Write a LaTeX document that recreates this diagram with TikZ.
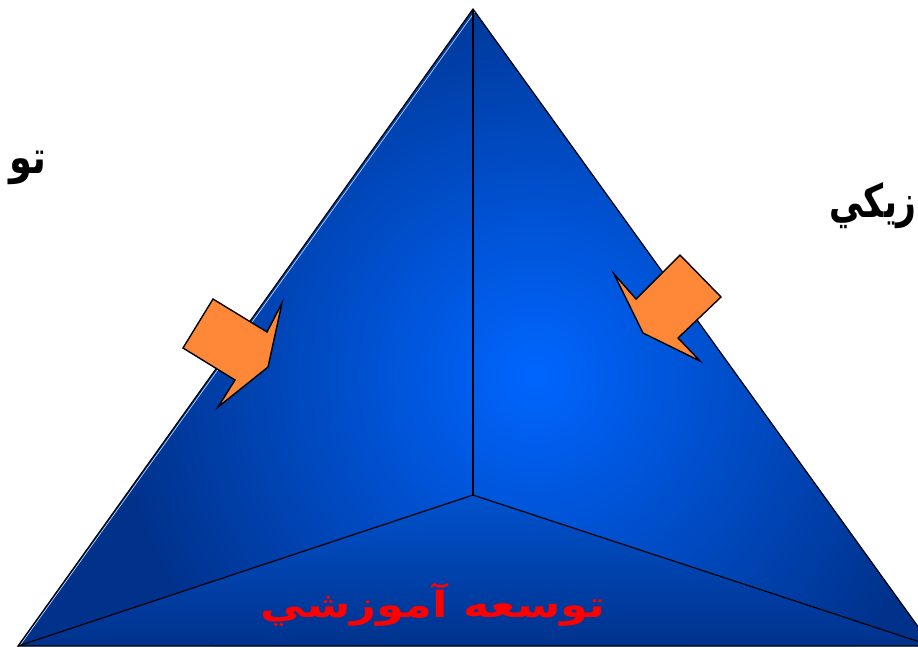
\documentclass[tikz,border=0pt]{standalone}
\usepackage{fontspec}
\TeXXeTstate=1
\newfontfamily\arabicfont[Script=Arabic]{DejaVu Sans}
\definecolor{facelight}{RGB}{0,102,255}
\definecolor{facedark}{RGB}{0,50,140}
\definecolor{floorlight}{RGB}{0,82,205}
\definecolor{arroworange}{RGB}{255,136,56}
\usetikzlibrary{calc}

\begin{document}
\begin{tikzpicture}[x=1pt, y=-1pt,
    edge/.style={black, line width=1.2pt},
    blockarrow/.style={fill=arroworange, draw=black, line width=1.4pt, line join=miter},
    sidelabel/.style={font=\arabicfont\bfseries\fontsize{46}{50}\selectfont, inner sep=0pt}]
  \useasboundingbox (0,0) rectangle (918,646);
  \clip (0,0) rectangle (918,646);
  \coordinate (apex) at (473,9);
  \coordinate (mid) at (473,495);
  \coordinate (bl) at (18,646);
  \coordinate (br) at (932,646);

  \begin{scope}
    \clip (apex) -- (bl) -- (br) -- cycle;
    \fill[facedark] (apex) -- (bl) -- (br) -- cycle;
    \shade[inner color=facelight, outer color=facedark] (535,375) circle (420);
    \shade[top color=floorlight, bottom color=facedark] (mid) -- (bl) -- (br) -- cycle;
  \end{scope}
  \draw[white!70!facelight, line width=0.7pt] ($(apex)+(1.6,3)$) -- ($(bl)+(1.6,0)$);
  \draw[edge] (apex) -- (bl) -- (br) -- cycle;
  \draw[edge] (apex) -- (mid);
  \draw[edge] (mid) -- (bl);
  \draw[edge] (mid) -- (br);

  \draw[blockarrow] (213,299) -- (267,332) -- (282,303) -- (268,367)
    -- (218,407) -- (235,380) -- (183,348) -- cycle;
  \draw[blockarrow] (680,255) -- (721,297) -- (678,338) -- (700,361)
    -- (643,333) -- (614,274) -- (636,299) -- cycle;

  \node[sidelabel, anchor=base east] (leftlabel) at (47,173) {\scalebox{0.8}[1]{\beginR تو\endR}};
  \node[sidelabel, anchor=base east] (rightlabel) at (917,217) {\scalebox{0.75}[1]{\beginR زيكي\endR}};
  \node[font=\arabicfont\bfseries\fontsize{36}{40}\selectfont, text=red, inner sep=0pt, anchor=base]
    (floorlabel) at (433,617) {\scalebox{1.25}[1]{\beginR توسعه آموزشي\endR}};
\end{tikzpicture}
\end{document}
